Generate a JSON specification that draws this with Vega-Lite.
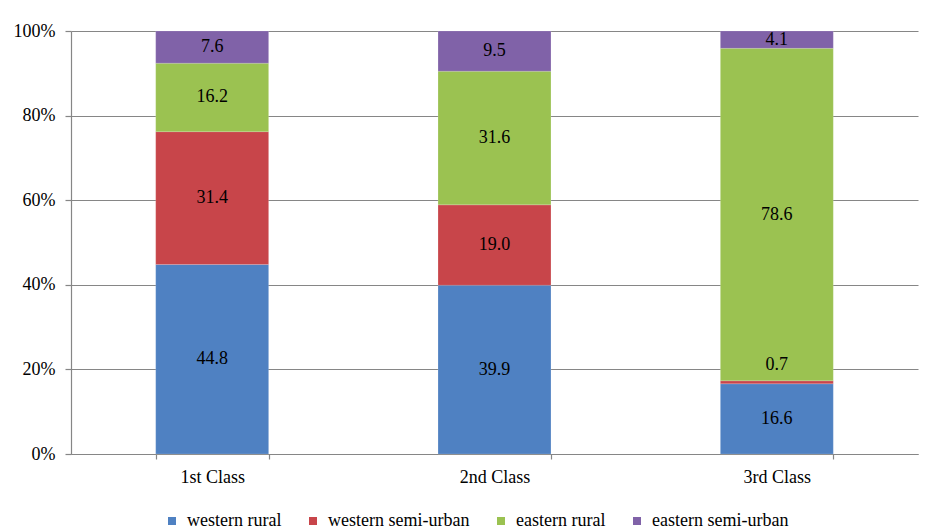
{
  "$schema": "https://vega.github.io/schema/vega-lite/v6.json",
  "width": 847,
  "height": 423,
  "autosize": {"type": "none"},
  "padding": {"left": 71, "top": 31, "right": 9, "bottom": 76},
  "background": "white",
  "config": {
    "view": {"stroke": null},
    "font": "Liberation Serif",
    "text": {"font": "Liberation Serif"},
    "axis": {
      "labelFont": "Liberation Serif",
      "labelFontSize": 18,
      "labelColor": "#000000",
      "domainColor": "#868686",
      "tickColor": "#868686",
      "gridColor": "#868686",
      "domainWidth": 1.2,
      "tickWidth": 1.2,
      "gridWidth": 1.2,
      "title": null
    },
    "legend": {
      "labelFont": "Liberation Serif",
      "labelFontSize": 18,
      "labelColor": "#000000"
    }
  },
  "data": {
    "values": [
      {"cls": "1st Class", "group": "western rural", "rank": 1, "value": 44.8},
      {"cls": "1st Class", "group": "western semi-urban", "rank": 2, "value": 31.4},
      {"cls": "1st Class", "group": "eastern rural", "rank": 3, "value": 16.2},
      {"cls": "1st Class", "group": "eastern semi-urban", "rank": 4, "value": 7.6},
      {"cls": "2nd Class", "group": "western rural", "rank": 1, "value": 39.9},
      {"cls": "2nd Class", "group": "western semi-urban", "rank": 2, "value": 19.0},
      {"cls": "2nd Class", "group": "eastern rural", "rank": 3, "value": 31.6},
      {"cls": "2nd Class", "group": "eastern semi-urban", "rank": 4, "value": 9.5},
      {"cls": "3rd Class", "group": "western rural", "rank": 1, "value": 16.6},
      {"cls": "3rd Class", "group": "western semi-urban", "rank": 2, "value": 0.7},
      {"cls": "3rd Class", "group": "eastern rural", "rank": 3, "value": 78.6},
      {"cls": "3rd Class", "group": "eastern semi-urban", "rank": 4, "value": 4.1}
    ]
  },
  "transform": [
    {
      "stack": "value",
      "groupby": ["cls"],
      "offset": "normalize",
      "sort": [{"field": "rank", "order": "ascending"}],
      "as": ["y0", "y1"]
    },
    {"calculate": "(datum.y0 + datum.y1) / 2", "as": "ymid"}
  ],
  "encoding": {
    "x": {
      "field": "cls",
      "type": "nominal",
      "sort": ["1st Class", "2nd Class", "3rd Class"],
      "scale": {"paddingInner": 0.6, "paddingOuter": 0.3},
      "axis": {
        "labelAngle": 0,
        "tickBand": "extent",
        "tickSize": 5,
        "labelPadding": 9,
        "grid": false
      }
    }
  },
  "layer": [
    {
      "mark": {"type": "bar", "stroke": "#ffffff", "strokeOpacity": 0.25, "strokeWidth": 0.6},
      "encoding": {
        "y": {
          "field": "y0",
          "type": "quantitative",
          "scale": {"domain": [0, 1], "nice": false},
          "axis": {
            "format": ".0%",
            "values": [0, 0.2, 0.4, 0.6, 0.8, 1],
            "tickSize": 6,
            "labelPadding": 10,
            "grid": true
          }
        },
        "y2": {"field": "y1"},
        "color": {
          "field": "group",
          "type": "nominal",
          "scale": {
            "domain": ["western rural", "western semi-urban", "eastern rural", "eastern semi-urban"],
            "range": ["#4f81c2", "#c8454a", "#9bc251", "#8062a8"]
          },
          "legend": {
            "title": null,
            "orient": "none",
            "direction": "horizontal",
            "legendX": 92,
            "legendY": 481,
            "symbolType": "square",
            "symbolSize": 64,
            "symbolStrokeWidth": 0,
            "labelOffset": 6,
            "columnPadding": 22
          }
        }
      }
    },
    {
      "transform": [{"filter": "datum.value >= 2"}],
      "mark": {"type": "text", "font": "Liberation Serif", "fontSize": 18, "color": "#000000", "baseline": "middle"},
      "encoding": {
        "y": {"field": "ymid", "type": "quantitative"},
        "text": {"field": "value", "type": "quantitative", "format": ".1f"}
      }
    },
    {
      "transform": [{"filter": "datum.value < 2"}],
      "mark": {"type": "text", "font": "Liberation Serif", "fontSize": 18, "color": "#000000", "baseline": "middle", "dy": -17},
      "encoding": {
        "y": {"field": "ymid", "type": "quantitative"},
        "text": {"field": "value", "type": "quantitative", "format": ".1f"}
      }
    }
  ]
}
